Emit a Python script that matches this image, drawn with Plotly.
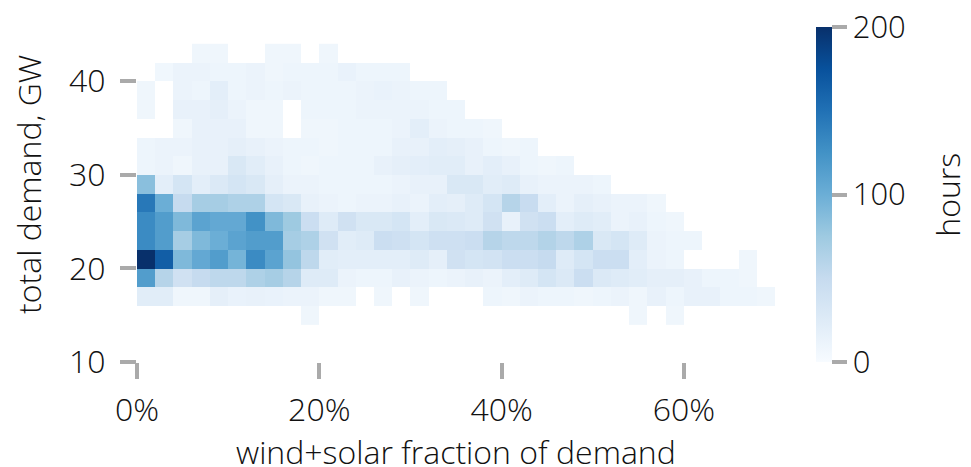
import plotly.graph_objects as go

# bin centres
x_centers = [1 + 2 * i for i in range(35)]          # wind+solar fraction, %
y_centers = [15 + 2 * j for j in range(15)]          # total demand, GW

# hours per bin, rows from 14-16 GW (bottom) to 42-44 GW (top); 0 = no data
row_14 = [0,0,0,0,0,0,0,0,0,8,0,0,0,0,0,0,0,0,0,0,0,0,0,0,0,0,0,8,0,8,0,0,0,0,0]
row_16 = [22,22,8,8,18,14,15,14,12,12,8,8,0,8,0,8,0,0,0,10,8,12,10,10,8,10,12,8,15,10,15,15,10,10,8]
row_18 = [115,60,40,50,55,55,65,70,60,25,25,12,10,10,15,12,10,12,15,12,20,25,35,28,45,28,25,22,18,18,15,10,10,8,0]
row_20 = [200,165,90,105,115,95,130,110,80,55,22,20,20,20,20,25,18,40,35,38,45,45,50,25,35,45,45,20,12,10,0,0,0,8,0]
row_22 = [130,115,70,90,100,110,115,115,70,65,40,22,25,45,42,35,42,42,45,60,55,55,62,55,65,30,35,25,12,10,10,0,0,0,0]
row_24 = [130,115,90,110,105,105,125,90,75,45,25,40,30,30,35,20,30,28,25,40,15,40,45,20,25,22,12,15,10,8,0,0,0,0,0]
row_26 = [145,100,50,70,70,65,65,35,30,15,12,10,12,12,15,12,20,18,25,35,60,48,20,12,18,15,12,12,8,0,0,0,0,0,0]
row_28 = [85,20,35,20,28,35,30,18,12,12,10,10,10,10,12,15,15,30,30,22,25,15,12,12,12,10,0,0,0,0,0,0,0,0,0]
row_30 = [10,12,8,15,15,30,22,15,10,8,10,10,10,15,18,20,22,22,15,20,15,10,8,10,0,0,0,0,0,0,0,0,0,0,0]
row_32 = [10,12,12,15,15,18,15,12,10,10,8,10,10,10,15,15,20,18,15,10,8,10,0,0,0,0,0,0,0,0,0,0,0,0,0]
row_34 = [0,0,8,15,15,15,8,8,0,8,8,10,10,10,12,20,12,10,10,8,0,0,0,0,0,0,0,0,0,0,0,0,0,0,0]
row_36 = [8,0,15,15,18,12,8,8,0,10,10,10,12,12,12,12,10,10,0,0,0,0,0,0,0,0,0,0,0,0,0,0,0,0,0]
row_38 = [8,0,12,10,20,10,12,10,12,10,10,10,12,14,12,10,10,0,0,0,0,0,0,0,0,0,0,0,0,0,0,0,0,0,0]
row_40 = [0,7,12,12,10,10,12,8,10,10,10,14,10,10,10,0,0,0,0,0,0,0,0,0,0,0,0,0,0,0,0,0,0,0,0]
row_42 = [0,0,0,8,8,0,0,8,8,0,8,0,0,0,0,0,0,0,0,0,0,0,0,0,0,0,0,0,0,0,0,0,0,0,0]

rows = [row_14, row_16, row_18, row_20, row_22, row_24, row_26, row_28,
        row_30, row_32, row_34, row_36, row_38, row_40, row_42]
z = [[(v if v > 0 else None) for v in r] for r in rows]

x_ticks = [0, 20, 40, 60]
x_tick_labels = ["0%", "20%", "40%", "60%"]
y_ticks = [10, 20, 30, 40]
cbar_ticks = [0, 100, 200]

FONT = "Open Sans"
TICK_GRAY = "#aaaaaa"
TXT = "#111111"
TICK_SIZE = 32
TITLE_SIZE = 32

fig = go.Figure(go.Heatmap(
    x=x_centers, y=y_centers, z=z,
    colorscale="Blues",
    zmin=0, zmax=200,
    colorbar=dict(
        thickness=16, len=1, lenmode="fraction", y=0.5, yanchor="middle",
        x=1.064, xanchor="left", xpad=0, ypad=0, outlinewidth=0,
        tickvals=cbar_ticks, ticks="outside", ticklen=15, tickwidth=4,
        tickcolor=TICK_GRAY, ticklabeloverflow="allow",
        tickfont=dict(family=FONT, size=31, color=TXT, weight=300),
    ),
    hoverongaps=False,
))

title_font = dict(family=FONT, size=TITLE_SIZE, color=TXT, weight=300)

# page body has an 8px margin, so the figure is 8px smaller than the window
fig.update_layout(
    width=963, height=459,
    margin=dict(l=129, r=196, t=19, b=105, autoexpand=False),
    plot_bgcolor="white", paper_bgcolor="white",
    font=dict(family=FONT, color=TXT),
    annotations=[
        dict(text="hours", xref="paper", yref="paper", x=1.27, y=0.5,
             xanchor="center", yanchor="middle", textangle=-90, showarrow=False,
             font=title_font),
        dict(text="total demand, GW", xref="paper", yref="paper", x=-0.17, y=0.53,
             xanchor="center", yanchor="middle", textangle=-90, showarrow=False,
             font=title_font),
        dict(text="wind+solar fraction of demand", xref="paper", yref="paper",
             x=0.5, y=0, xanchor="center", yanchor="top", yshift=-66,
             showarrow=False, font=title_font),
    ],
)
fig.update_xaxes(
    range=[0, 70], tickvals=x_ticks, ticktext=x_tick_labels,
    ticks="outside", ticklen=16, tickwidth=4, tickcolor=TICK_GRAY,
    showgrid=False, zeroline=False, showline=False, automargin=False,
    tickfont=dict(family=FONT, size=TICK_SIZE, color=TXT, weight=300), ticklabelstandoff=4,
)
fig.update_yaxes(
    range=[10, 45.8], tickvals=y_ticks,
    ticks="outside", ticklen=16, tickwidth=4, tickcolor=TICK_GRAY,
    showgrid=False, zeroline=False, showline=False, automargin=False,
    tickfont=dict(family=FONT, size=TICK_SIZE, color=TXT, weight=300), ticklabelstandoff=8,
)

fig.write_html("out.html")
